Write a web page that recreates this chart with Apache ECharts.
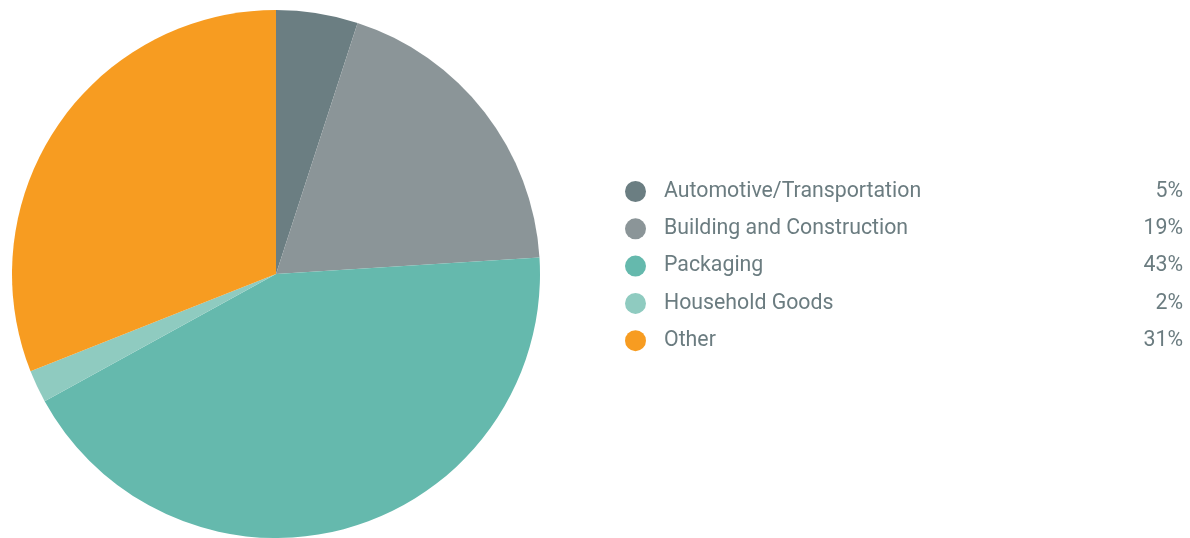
<!DOCTYPE html>
<html>
<head>
<meta charset="utf-8">
<title>End-use markets</title>
<script src="https://cdn.jsdelivr.net/npm/echarts@6/dist/echarts.min.js"></script>
<style>
  html, body { margin: 0; padding: 0; background: #ffffff; }
  #chart { width: 1190px; height: 538px; }
</style>
</head>
<body>
<div id="chart"></div>
<script>
// Market segments and their shares (%)
const categories = ['Automotive/Transportation', 'Building and Construction', 'Packaging', 'Household Goods', 'Other'];
const shares = [5, 19, 43, 2, 31];
const colors = ['#6b7e82', '#8b9598', '#65b9ad', '#8fcbc0', '#f79c21'];

const pieData = categories.map((name, i) => ({
  name: name,
  value: shares[i],
  itemStyle: { color: colors[i] }
}));

const chart = echarts.init(document.getElementById('chart'), null, { renderer: 'canvas' });

const FONT = 21.3;

chart.setOption({
  animation: false,
  backgroundColor: '#ffffff',
  legend: {
    orient: 'vertical',
    left: 625,
    top: 181,
    padding: 0,
    icon: 'circle',
    itemWidth: 21,
    itemHeight: 21,
    itemGap: 16.3,
    selectedMode: false,
    data: categories,
    formatter: function (name) {
      const i = categories.indexOf(name);
      return '{n|' + name + '}{v|' + shares[i] + '%}';
    },
    textStyle: {
      color: '#6b7c80',
      fontFamily: 'Roboto',
      fontSize: FONT,
      lineHeight: 21,
      padding: [0, 0, 0, 13],
      rich: {
        n: { width: 460, fontFamily: 'Roboto', fontSize: FONT, lineHeight: 21, color: '#6b7c80' },
        v: { width: 59, align: 'right', fontFamily: 'Roboto', fontSize: FONT, lineHeight: 21, color: '#6b7c80' }
      }
    }
  },
  series: [{
    type: 'pie',
    center: [276, 274],
    radius: [0, 264],
    startAngle: 90,
    clockwise: true,
    label: { show: false },
    labelLine: { show: false },
    emphasis: { disabled: true },
    itemStyle: { borderWidth: 0 },
    data: pieData
  }]
});
</script>
</body>
</html>
